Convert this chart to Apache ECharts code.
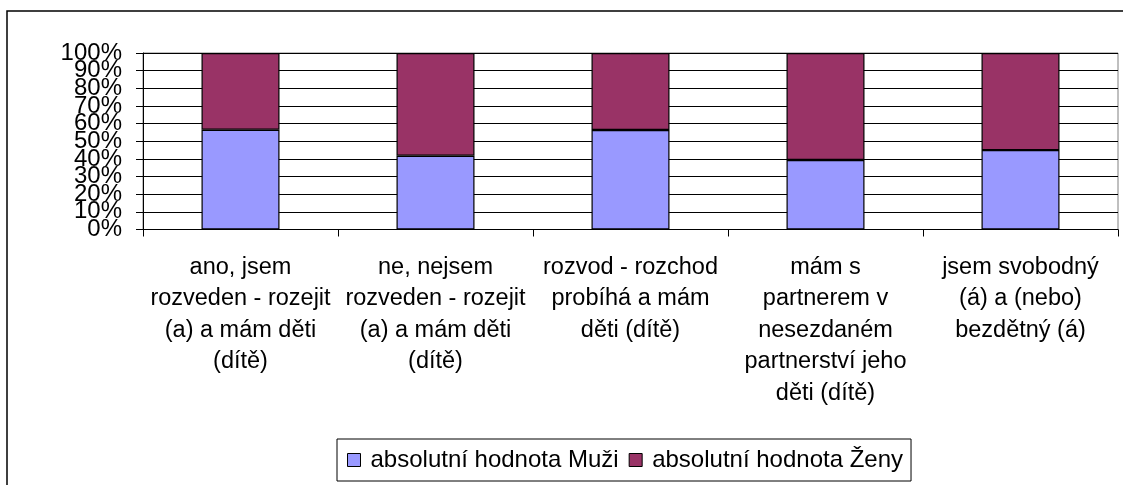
<!DOCTYPE html>
<html>
<head>
<meta charset="utf-8">
<title>Muži / Ženy</title>
<script src="https://cdn.jsdelivr.net/npm/echarts@6/dist/echarts.min.js"></script>
<style>
  html, body { margin: 0; padding: 0; background: #fff; }
  #chart { width: 1123px; height: 485px; }
</style>
</head>
<body>
<div id="chart"></div>
<script>
const categories = [
  'ano, jsem\nrozveden - rozejit\n(a) a mám děti\n(dítě)',
  'ne, nejsem\nrozveden - rozejit\n(a) a mám děti\n(dítě)',
  'rozvod - rozchod\nprobíhá a mám\nděti (dítě)',
  'mám s\npartnerem v\nnesezdaném\npartnerství jeho\nděti (dítě)',
  'jsem svobodný\n(á) a (nebo)\nbezdětný (á)'
]
const muzi = [56.5, 41.8, 56.4, 39.4, 45.0]
const zeny = [43.5, 58.2, 43.6, 60.6, 55.0]
const percentTicks = ['0%', '10%', '20%', '30%', '40%', '50%', '60%', '70%', '80%', '90%', '100%']

const font = 'Liberation Sans, Arial, sans-serif'
const chart = echarts.init(document.getElementById('chart'))

chart.setOption({
  animation: false,
  graphic: [{
    type: 'rect',
    shape: { x: 7, y: 11, width: 1300, height: 600 },
    style: { fill: 'none', stroke: '#000', lineWidth: 1.5 },
    silent: true
  }],
  grid: {
    left: 143, top: 53, right: 5, bottom: 255.5,
    show: true, borderColor: '#808080', borderWidth: 1, backgroundColor: '#fff'
  },
  legend: {
    left: 337, top: 439,
    padding: [9, 8, 9, 10],
    itemGap: 10,
    itemWidth: 13, itemHeight: 13,
    borderColor: '#000', borderWidth: 1,
    icon: 'rect',
    textStyle: { fontFamily: font, fontSize: 24, color: '#000', padding: [0, 0, 0, 5] },
    itemStyle: { borderColor: '#000', borderWidth: 1 },
    data: ['absolutní hodnota Muži', 'absolutní hodnota Ženy']
  },
  xAxis: {
    type: 'category',
    data: categories,
    axisLine: { lineStyle: { color: '#000', width: 1 } },
    axisTick: { show: true, length: 7, lineStyle: { color: '#000' } },
    axisLabel: {
      interval: 0, margin: 22, color: '#000',
      fontFamily: font, fontSize: 23.5, lineHeight: 31.5
    }
  },
  yAxis: [
    {
      type: 'value',
      min: 0, max: 100, interval: 10,
      axisLine: { show: true, lineStyle: { color: '#000', width: 1 } },
      axisTick: { show: true, length: 7, lineStyle: { color: '#000' } },
      splitLine: { lineStyle: { color: '#000', width: 1 } },
      axisLabel: { show: false }
    },
    {
      // label-only axis so the overlapping Excel-style labels all stay visible
      type: 'category',
      position: 'left',
      boundaryGap: false,
      data: percentTicks,
      axisLine: { show: false },
      axisTick: { show: false },
      splitLine: { show: false },
      axisLabel: {
        interval: 0, margin: 21, color: '#000',
        fontFamily: font, fontSize: 24
      }
    }
  ],
  series: [
    {
      name: 'absolutní hodnota Muži',
      type: 'bar',
      stack: 'total',
      barWidth: 78,
      data: muzi,
      itemStyle: { color: '#9999ff', borderColor: '#000', borderWidth: 1.2 }
    },
    {
      name: 'absolutní hodnota Ženy',
      type: 'bar',
      stack: 'total',
      barWidth: 78,
      data: zeny,
      itemStyle: { color: '#993366', borderColor: '#000', borderWidth: 1.2 }
    }
  ]
})
</script>
</body>
</html>
